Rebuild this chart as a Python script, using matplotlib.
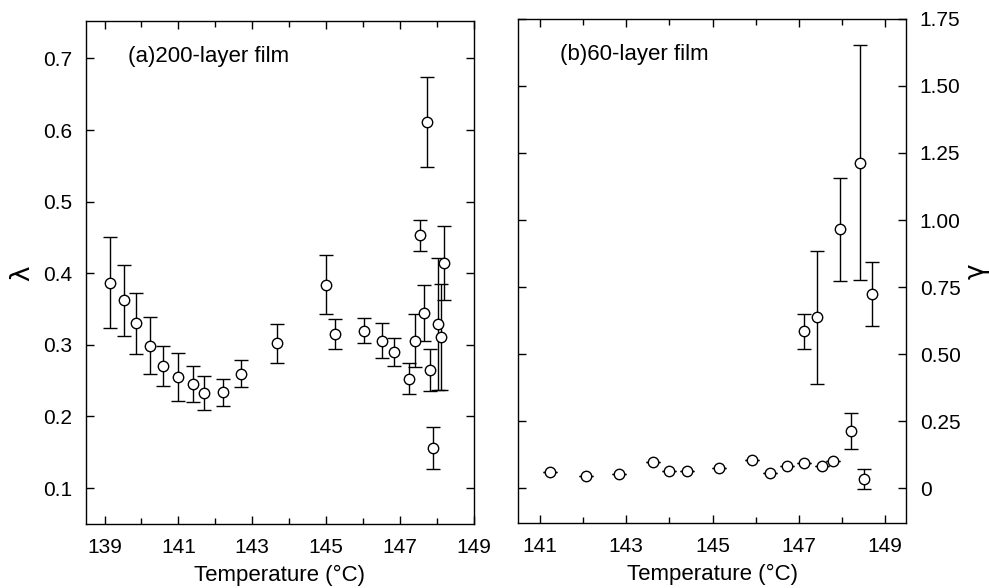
import matplotlib
matplotlib.use("Agg")
import matplotlib.pyplot as plt
from matplotlib.ticker import MultipleLocator

# (a) 200-layer film: temperature, lambda, error
temp_a = [139.14, 139.52, 139.86, 140.24, 140.59, 140.98, 141.39, 141.69, 142.22, 142.70,
          143.68, 145.01, 145.24, 146.03, 146.52, 146.85, 147.26, 147.41, 147.54, 147.66,
          147.73, 147.81, 147.89, 148.02, 148.10, 148.19]
lam_a = [0.387, 0.362, 0.330, 0.299, 0.270, 0.255, 0.245, 0.233, 0.234, 0.260,
         0.302, 0.384, 0.315, 0.320, 0.306, 0.290, 0.253, 0.306, 0.453, 0.344,
         0.611, 0.265, 0.156, 0.329, 0.311, 0.414]
err_a = [0.063, 0.049, 0.043, 0.040, 0.028, 0.033, 0.025, 0.024, 0.019, 0.019,
         0.027, 0.041, 0.021, 0.018, 0.025, 0.019, 0.022, 0.037, 0.022, 0.039,
         0.063, 0.029, 0.030, 0.092, 0.074, 0.052]

# (b) 60-layer film: temperature, gamma, error (0 = no visible bar)
temp_b = [141.23, 142.06, 142.84, 143.61, 143.99, 144.40, 145.14, 145.92, 146.34, 146.72,
          147.12, 147.54, 147.80, 148.20, 148.51, 147.12, 147.41, 147.95, 148.41, 148.70]
gam_b = [0.060, 0.047, 0.055, 0.100, 0.063, 0.063, 0.075, 0.105, 0.057, 0.083,
         0.093, 0.082, 0.103, 0.214, 0.035, 0.585, 0.638, 0.965, 1.214, 0.724]
err_b = [0, 0, 0, 0, 0, 0, 0, 0, 0, 0,
         0, 0, 0, 0.067, 0.039, 0.066, 0.248, 0.192, 0.439, 0.120]

xticks_a = [139, 141, 143, 145, 147, 149]
xticks_b = [141, 143, 145, 147, 149]
yticks_a = [0.1, 0.2, 0.3, 0.4, 0.5, 0.6, 0.7]
yticks_b = [0, 0.25, 0.5, 0.75, 1.0, 1.25, 1.5, 1.75]
ylabels_b = ["0", "0.25", "0.50", "0.75", "1.00", "1.25", "1.50", "1.75"]

plt.rcParams['font.family'] = ['Liberation Sans', 'DejaVu Sans']
FS_TICK = 15
FS_TXT = 16

W, H = 989, 588
fig = plt.figure(figsize=(W / 100, H / 100), dpi=100)
axA = fig.add_axes([0.087, 0.109, 0.392, 0.855])
axB = fig.add_axes([0.524, 0.111, 0.392, 0.857])

def style(ax):
    for s in ax.spines.values():
        s.set_linewidth(1.0)
    ax.tick_params(which='both', direction='in', top=True, right=True,
                   labelsize=FS_TICK, width=1.0, pad=10)
    ax.tick_params(which='major', length=6)
    ax.tick_params(which='minor', length=4)
    ax.xaxis.set_minor_locator(MultipleLocator(1))

ekw = dict(fmt='o', mfc='white', mec='black', ms=7.5, mew=1.0, ecolor='black',
           elinewidth=1.0, capsize=5, capthick=1.0, zorder=3)

axA.errorbar(temp_a, lam_a, yerr=err_a, **ekw)
axA.set_xlim(138.5, 149.0)
axA.set_ylim(0.05, 0.752)
style(axA)
axA.set_xticks(xticks_a)
axA.set_xticklabels([str(t) for t in xticks_a])
axA.set_yticks(yticks_a)
axA.set_yticklabels([f"{v:.1f}" for v in yticks_a])
axA.set_xlabel("Temperature (°C)", fontsize=FS_TXT, labelpad=6)
axA.text(0.109, 0.93, "(a)200-layer film", transform=axA.transAxes, fontsize=FS_TXT,
         ha='left', va='center')

axB.errorbar(temp_b, gam_b, yerr=err_b, **ekw)
axB.set_xlim(140.5, 149.48)
axB.set_ylim(-0.128, 1.75)
style(axB)
axB.set_xticks(xticks_b)
axB.set_xticklabels([str(t) for t in xticks_b])
axB.set_yticks(yticks_b)
axB.set_yticklabels(ylabels_b)
axB.yaxis.tick_right()
axB.tick_params(which='both', left=True, right=True, labelleft=False, labelright=True)
axB.set_xlabel("Temperature (°C)", fontsize=FS_TXT, labelpad=6)
axB.text(0.108, 0.93, "(b)60-layer film", transform=axB.transAxes, fontsize=FS_TXT,
         ha='left', va='center')

# rotated axis symbols (as in the original figure)
fig.text(22 / W, 1 - 273 / H, "λ", fontsize=19, rotation=90,
         ha='center', va='center', family=['DejaVu Sans'])
fig.text(977 / W, 1 - 271 / H, "γ", fontsize=19, rotation=90,
         ha='center', va='center', family=['DejaVu Sans'])

fig.savefig("out.png", dpi=100)
